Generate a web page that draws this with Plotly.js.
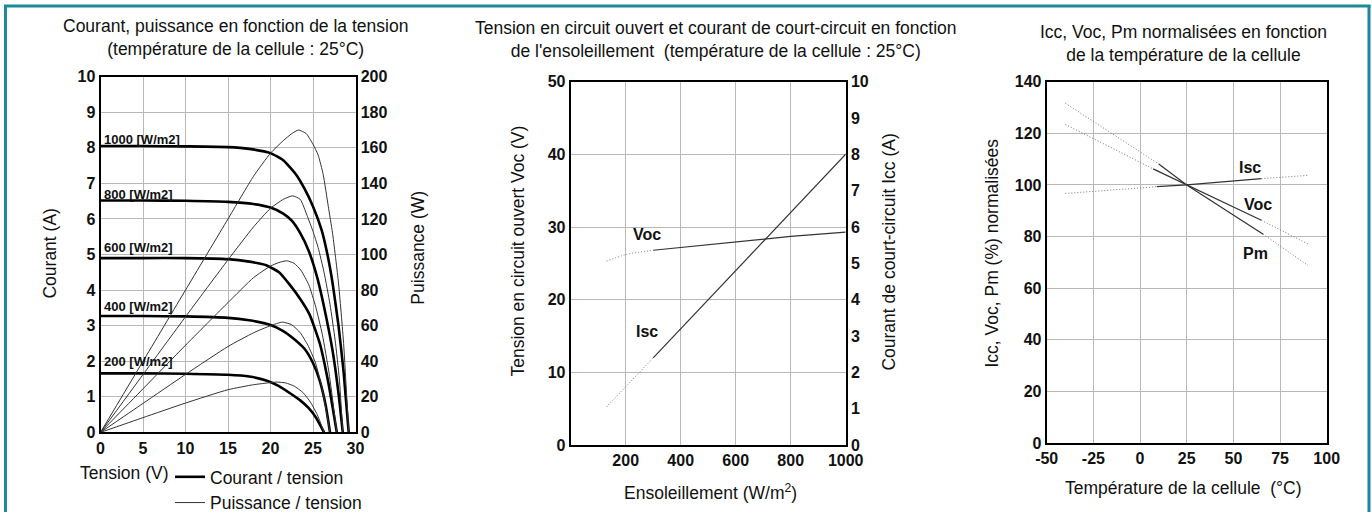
<!DOCTYPE html>
<html>
<head>
<meta charset="utf-8">
<script src="https://cdn.plot.ly/plotly-3.0.1.min.js"></script>
<style>html,body{margin:0;padding:0;background:#fff;}#chart{width:1372px;height:521px;}</style>
</head>
<body>
<div id="chart"></div>
<script>
// ---------- Panel 1 : I-V and P-V curves (cell temperature 25°C) ----------
const irradianceLabels = ["1000 [W/m2]", "800 [W/m2]", "600 [W/m2]", "400 [W/m2]", "200 [W/m2]"];

const iv1000_V = [0, 5, 10, 15, 17.5, 20, 21.5, 23, 24, 25, 26, 26.7, 27.3, 28, 28.6, 29.2];
const iv1000_I = [8.05, 8.05, 8.04, 8.02, 7.97, 7.85, 7.65, 7.25, 6.85, 6.35, 5.7, 5.0, 4.2, 3.0, 1.7, 0];
const iv800_V  = [0, 5, 10, 15, 18, 20, 21.5, 22.5, 23.5, 24.5, 25.5, 26.5, 27.3, 28, 28.5];
const iv800_I  = [6.52, 6.52, 6.51, 6.48, 6.42, 6.32, 6.15, 5.95, 5.6, 5.1, 4.35, 3.3, 2.3, 1.1, 0];
const iv600_V  = [0, 5, 10, 15, 17.5, 19.5, 21, 22.3, 23.5, 24.6, 25.8, 26.8, 27.8];
const iv600_I  = [4.9, 4.9, 4.9, 4.87, 4.8, 4.7, 4.5, 4.14, 3.75, 3.31, 2.5, 1.4, 0];
const iv400_V  = [0, 5, 10, 15, 17.5, 20, 21.5, 22.8, 24, 25, 25.8, 26.5, 27.0];
const iv400_I  = [3.27, 3.27, 3.26, 3.22, 3.15, 3.02, 2.85, 2.62, 2.35, 1.95, 1.45, 0.75, 0];
const iv200_V  = [0, 5, 10, 15, 17.5, 19.5, 21, 22.3, 23.5, 24.5, 25.4, 26.3];
const iv200_I  = [1.66, 1.66, 1.65, 1.62, 1.57, 1.46, 1.3, 1.1, 0.9, 0.68, 0.4, 0];

const pv1000_V = [0, 5, 10, 15, 18, 20, 21.5, 22.5, 23.3, 24.2, 25, 25.6, 26.2, 26.8, 27.3, 28, 28.6, 29.2];
const pv1000_P = [0, 40, 80, 120, 144, 157, 164, 168, 170, 168, 162, 156, 145, 127, 112, 84, 50, 0];
const pv800_V  = [0, 5, 10, 15, 18, 20, 21.5, 22.6, 23.5, 24.3, 25, 25.6, 26.3, 27, 27.6, 28.1, 28.5];
const pv800_P  = [0, 32.5, 65, 97, 115.5, 126, 131, 133, 131, 122, 113, 104, 90, 72, 52, 30, 0];
const pv600_V  = [0, 5, 10, 15, 18, 20, 21, 21.9, 22.8, 23.6, 24.5, 25.3, 26.1, 26.9, 27.8];
const pv600_P  = [0, 24.5, 49, 73, 87, 93.5, 95.5, 96.5, 95, 91, 83, 71, 55, 33, 0];
const pv400_V  = [0, 5, 10, 15, 18, 20, 21.4, 22.5, 23.5, 24.4, 25.3, 26.1, 27.0];
const pv400_P  = [0, 16.3, 32.6, 48.3, 56, 60, 62, 60.5, 56, 49, 39, 24, 0];
const pv200_V  = [0, 5, 10, 15, 18, 20, 20.8, 21.8, 22.8, 23.8, 24.7, 25.5, 26.3];
const pv200_P  = [0, 8.3, 16.5, 24, 26.8, 28, 28.3, 27.8, 26, 22.5, 17, 10, 0];

const p1VoltTicks = [0, 5, 10, 15, 20, 25, 30];
const p1CurrTicks = [0, 1, 2, 3, 4, 5, 6, 7, 8, 9, 10];
const p1PowTicks  = [0, 20, 40, 60, 80, 100, 120, 140, 160, 180, 200];

// ---------- Panel 2 : Voc and Isc vs irradiance ----------
const vocIrrDotted = [130, 200, 300];
const vocDotted    = [25.3, 26.2, 26.8];
const vocIrrSolid  = [300, 400, 600, 800, 1000];
const vocSolid     = [26.8, 27.2, 28.0, 28.7, 29.3];
const iscIrrDotted = [130, 300];
const iscDotted    = [1.05, 2.4];
const iscIrrSolid  = [300, 600, 1000];
const iscSolid     = [2.4, 4.8, 8.0];
const p2IrrTicks   = [200, 400, 600, 800, 1000];
const p2VocTicks   = [0, 10, 20, 30, 40, 50];
const p2IscTicks   = [0, 1, 2, 3, 4, 5, 6, 7, 8, 9, 10];

// ---------- Panel 3 : normalised Icc, Voc, Pm vs cell temperature ----------
const tIscDotA = [-40, 9],  iscDotA = [96.7, 99.3];
const tIscSol  = [9, 25, 65], iscSol = [99.3, 100, 102.4];
const tIscDotB = [65, 90],  iscDotB = [102.4, 103.7];
const tVocDotA = [-40, 7],  vocDotA = [123.4, 106.2];
const tVocSol  = [7, 25, 65], vocSol = [106.2, 100, 86.3];
const tVocDotB = [65, 90],  vocDotB = [86.3, 77.1];
const tPmDotA  = [-40, 10], pmDotA = [131.6, 108.1];
const tPmSol   = [10, 25, 66], pmSol = [108.1, 100, 80.9];
const tPmDotB  = [66, 90],  pmDotB = [80.9, 68.8];
const p3TempTicks = [-50, -25, 0, 25, 50, 75, 100];
const p3TempText  = ["-50", "-25", "0", "25", "50", "75", "100"];
const p3PctTicks  = [0, 20, 40, 60, 80, 100, 120, 140];

// ---------- helpers ----------
const W = 1372, H = 521;
const px = v => v / W;
const py = v => 1 - v / H;
const FONT = "Liberation Sans, Arial, Helvetica, sans-serif";
const INK = "#111";
const GRID = "#b8b8b8";
const tickFont = {family: FONT, size: 16, color: INK, weight: "bold"};

const traces = [];
const ivSets = [[iv1000_V, iv1000_I], [iv800_V, iv800_I], [iv600_V, iv600_I], [iv400_V, iv400_I], [iv200_V, iv200_I]];
const pvSets = [[pv1000_V, pv1000_P], [pv800_V, pv800_P], [pv600_V, pv600_P], [pv400_V, pv400_P], [pv200_V, pv200_P]];
pvSets.forEach((s, i) => traces.push({
  x: s[0], y: s[1], xaxis: "x", yaxis: "y2", mode: "lines",
  line: {color: "#333", width: 1, shape: "spline", smoothing: 0.5},
  name: "Puissance / tension", showlegend: i === 0, legendrank: 2, hoverinfo: "skip"
}));
ivSets.forEach((s, i) => traces.push({
  x: s[0], y: s[1], xaxis: "x", yaxis: "y", mode: "lines",
  line: {color: "#000", width: 2.6, shape: "spline", smoothing: 0.5},
  name: "Courant / tension", showlegend: i === 0, legendrank: 1, hoverinfo: "skip"
}));

const dotLine = {color: "#777", width: 1, dash: "1px,2px"};
const solLine = {color: "#333", width: 1.2};
// panel 2
traces.push({x: vocIrrDotted, y: vocDotted, xaxis: "x2", yaxis: "y3", mode: "lines", line: Object.assign({shape: "spline"}, dotLine), showlegend: false});
traces.push({x: vocIrrSolid, y: vocSolid, xaxis: "x2", yaxis: "y3", mode: "lines", line: solLine, showlegend: false});
traces.push({x: iscIrrDotted, y: iscDotted, xaxis: "x2", yaxis: "y4", mode: "lines", line: dotLine, showlegend: false});
traces.push({x: iscIrrSolid, y: iscSolid, xaxis: "x2", yaxis: "y4", mode: "lines", line: solLine, showlegend: false});
// panel 3
[[tIscDotA, iscDotA, dotLine], [tIscSol, iscSol, solLine], [tIscDotB, iscDotB, dotLine],
 [tVocDotA, vocDotA, dotLine], [tVocSol, vocSol, solLine], [tVocDotB, vocDotB, dotLine],
 [tPmDotA, pmDotA, dotLine], [tPmSol, pmSol, solLine], [tPmDotB, pmDotB, dotLine]]
 .forEach(s => traces.push({x: s[0], y: s[1], xaxis: "x3", yaxis: "y5", mode: "lines", line: s[2], showlegend: false}));

function axis(extra) {
  return Object.assign({
    showline: true, linecolor: "#000", linewidth: 2, ticks: "", showgrid: true,
    gridcolor: GRID, gridwidth: 1, zeroline: false, tickfont: tickFont, fixedrange: true,
    tickmode: "array"
  }, extra);
}

const layout = {
  width: W, height: H, margin: {l: 0, r: 0, t: 0, b: 0},
  paper_bgcolor: "#fff", plot_bgcolor: "#fff",
  font: {family: FONT, color: INK},
  showlegend: true,
  legend: {x: px(170), y: py(467), xanchor: "left", yanchor: "top", bgcolor: "rgba(0,0,0,0)",
           font: {family: FONT, size: 17.5, color: INK}, tracegroupgap: 0, itemwidth: 30,
           traceorder: "normal"},
  xaxis: axis({domain: [px(100.5), px(355.5)], range: [0, 30], tickvals: p1VoltTicks, anchor: "y", mirror: true}),
  yaxis: axis({domain: [py(440), py(78)], range: [0, 10], tickvals: p1CurrTicks, anchor: "x"}),
  yaxis2: axis({domain: [py(440), py(78)], range: [0, 200], tickvals: p1PowTicks, overlaying: "y", side: "right", anchor: "x", showgrid: false}),
  xaxis2: axis({domain: [px(570.7), px(845.7)], range: [0, 1000], tickvals: p2IrrTicks, anchor: "y3", mirror: true}),
  yaxis3: axis({domain: [py(453), py(83)], range: [0, 50], tickvals: p2VocTicks, anchor: "x2"}),
  yaxis4: axis({domain: [py(453), py(83)], range: [0, 10], tickvals: p2IscTicks, overlaying: "y3", side: "right", anchor: "x2", showgrid: false}),
  xaxis3: axis({domain: [px(1046.7), px(1326.7)], range: [-50, 100], tickvals: p3TempTicks, ticktext: p3TempText, anchor: "y5", mirror: true}),
  yaxis5: axis({domain: [py(451), py(83)], range: [0, 140], tickvals: p3PctTicks, anchor: "x3", mirror: true}),
  shapes: [
    {type: "line", xref: "paper", yref: "paper", x0: px(5.5), x1: px(5.5), y0: py(5), y1: 0, line: {color: "#1b8a9a", width: 3}},
    {type: "line", xref: "paper", yref: "paper", x0: px(4), x1: px(1370.5), y0: py(6), y1: py(6), line: {color: "#1b8a9a", width: 3}},
    {type: "line", xref: "paper", yref: "paper", x0: px(1369), x1: px(1369), y0: py(5), y1: 0, line: {color: "#1b8a9a", width: 3}}
  ],
  annotations: []
};

const A = layout.annotations;
function ptext(x, y, text, size, opts) {
  A.push(Object.assign({xref: "paper", yref: "paper", x: px(x), y: py(y), text: text, showarrow: false,
    xanchor: "center", yanchor: "middle", font: {family: FONT, size: size, color: INK}}, opts || {}));
}
// titles
ptext(235, 38, "Courant, puissance en fonction de la tension<br>(température de la cellule : 25°C)", 17.5);
ptext(716, 40, "Tension en circuit ouvert et courant de court-circuit en fonction<br>de l'ensoleillement  (température de la cellule : 25°C)", 17.5);
ptext(1183, 44, "Icc, Voc, Pm normalisées en fonction<br>de la température de la cellule", 17.5);
// axis titles
ptext(50, 258, "Courant (A)", 17.5, {textangle: -90});
ptext(418, 252, "Puissance (W)", 17.5, {textangle: -90});
ptext(125, 481, "Tension (V)", 17.5);
ptext(518, 256, "Tension en circuit ouvert Voc (V)", 17.5, {textangle: -90});
ptext(889, 257, "Courant de court-circuit Icc (A)", 17.5, {textangle: -90});
ptext(711, 501, "Ensoleillement (W/m<sup>2</sup>)", 17.5);
ptext(992, 258, "Icc, Voc, Pm (%) normalisées", 17.5, {textangle: -90});
ptext(1183, 497, "Température de la cellule  (°C)", 17.5);
// curve labels panel 1
const p1LabelY = [8.24, 6.68, 5.2, 3.54, 1.98];
irradianceLabels.forEach((t, i) => A.push({xref: "x", yref: "y", x: 0.2, y: p1LabelY[i], text: t, showarrow: false,
  xanchor: "left", yanchor: "middle", font: {family: FONT, size: 13, color: INK, weight: "bold"}}));
// labels panel 2
const lblFont = {family: FONT, size: 16, color: INK, weight: "bold"};
A.push({xref: "x2", yref: "y3", x: 276, y: 29.0, text: "Voc", showarrow: false, font: lblFont});
A.push({xref: "x2", yref: "y3", x: 276, y: 15.6, text: "Isc", showarrow: false, font: lblFont});
// labels panel 3
A.push({xref: "x3", yref: "y5", x: 59, y: 106.9, text: "Isc", showarrow: false, font: lblFont});
A.push({xref: "x3", yref: "y5", x: 63.3, y: 92.3, text: "Voc", showarrow: false, font: lblFont});
A.push({xref: "x3", yref: "y5", x: 62.1, y: 73.3, text: "Pm", showarrow: false, font: lblFont});

Plotly.newPlot("chart", traces, layout, {displayModeBar: false, staticPlot: true});
</script>
</body>
</html>
